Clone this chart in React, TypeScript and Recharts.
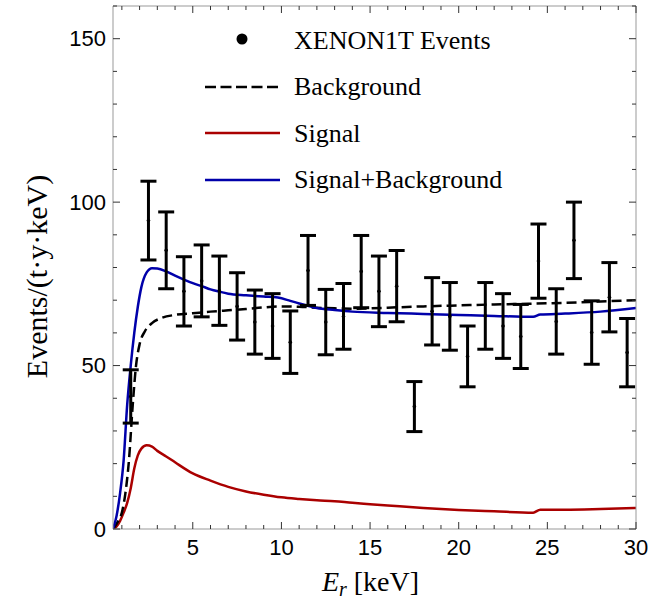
import React from "react";
import {
  ComposedChart,
  Line,
  Scatter,
  ErrorBar,
  XAxis,
  YAxis,
  Legend,
} from "recharts";

// XENON1T bins (keV) and measured rates with error bar ends
const binCenters = [
  1.5, 2.5, 3.5, 4.5, 5.5, 6.5, 7.5, 8.5, 9.5, 10.5, 11.5, 12.5, 13.5, 14.5,
  15.5, 16.5, 17.5, 18.5, 19.5, 20.5, 21.5, 22.5, 23.5, 24.5, 25.5, 26.5, 27.5,
  28.5, 29.5,
];
const eventCenter = [
  40.5, 94.4, 85.3, 72.7, 75.9, 72.9, 68.1, 63.3, 62.1, 57.1, 79.1, 63.3, 65,
  78.8, 72.7, 74.3, 37.5, 66.6, 65, 52.8, 65.2, 62.1, 58.9, 82, 63.5, 88.3,
  60.1, 70.9, 54,
];
const eventLow = [
  32.4, 82.3, 73.5, 62.1, 64.9, 62.3, 57.8, 53.5, 52.2, 47.6, 68.4, 53.3, 55,
  67.7, 61.9, 63.4, 29.8, 56.3, 54.7, 43.5, 55, 52.2, 49.1, 70.6, 53.5, 76.6,
  50.4, 60.3, 43.5,
];
const eventHigh = [
  48.7, 106.4, 97, 83.3, 86.9, 83.5, 78.4, 73.1, 72, 66.7, 89.8, 73.3, 75.1,
  89.8, 83.5, 85.2, 45.1, 76.9, 75.4, 62.1, 75.4, 72, 68.7, 93.3, 73.5, 100,
  69.8, 81.5, 64.4,
];

// background model
const bgE = [
  0.5, 0.75, 1.0, 1.2, 1.4, 1.6, 1.8, 2.0, 2.3, 2.7, 3.2, 4, 5, 6, 7, 8, 9, 10,
  11, 12, 13, 14, 15, 16, 18, 20, 22, 24, 26, 28, 30,
];
const bgY = [
  0, 2, 5, 11, 21, 37, 50, 56.5, 60.5, 63, 64.5, 65.5, 66, 66.5, 66.9, 67.3,
  67.8, 68.1, 68, 67.7, 67.5, 67.4, 67.5, 67.7, 68.1, 68.4, 68.7, 68.9, 69.2,
  69.6, 70,
];

// signal + background
const sbE = [
  0.5, 0.7, 0.9, 1.1, 1.3, 1.5, 1.7, 1.9, 2.1, 2.4, 2.7, 3.0, 3.5, 4.0, 4.5,
  5.0, 5.5, 6.0, 6.5, 7.0, 8, 9, 9.8, 10.5, 11, 12, 13, 14, 16, 18, 20, 22,
  24.2, 24.6, 26, 28, 30,
];
const sbY = [
  0, 4, 11, 21, 38, 50, 60, 68, 74, 78.5, 79.8, 79.7, 78.8, 77.5, 76.3, 75.2,
  74.3, 73.3, 72.6, 72, 71.5, 71.1, 70.8, 69.8, 69, 67.6, 67, 66.5, 66.1, 65.8,
  65.5, 65.2, 64.9, 65.6, 65.9, 66.5, 67.6,
];

// signal
const sigE = [
  0.5, 0.7, 0.9, 1.1, 1.3, 1.5, 1.7, 1.9, 2.1, 2.4, 2.7, 3.0, 3.5, 4, 5, 6, 7,
  8, 9, 10, 11, 12, 13, 14, 15, 16, 18, 20, 22, 24.2, 24.6, 26, 28, 30,
];
const sigY = [
  0, 0.8, 2.5, 5, 8, 12.5, 18.5, 22.5, 24.6, 25.6, 25.2, 23.9, 22.2, 20.4, 17,
  14.8, 12.9, 11.5, 10.5, 9.7, 9.2, 8.8, 8.5, 8, 7.6, 7.2, 6.4, 5.8, 5.4, 5.0,
  5.9, 5.9, 6.1, 6.4,
];

const xTicks = [
  1, 2, 3, 4, 5, 6, 7, 8, 9, 10, 11, 12, 13, 14, 15, 16, 17, 18, 19, 20, 21,
  22, 23, 24, 25, 26, 27, 28, 29, 30,
];
const yTicks = [
  0, 10, 20, 30, 40, 50, 60, 70, 80, 90, 100, 110, 120, 130, 140, 150, 160,
];
const legendLabels = [
  "XENON1T Events",
  "Background",
  "Signal",
  "Signal+Background",
];

const toSeries = (xs: number[], ys: number[]) =>
  xs.map((x, i) => ({ x, y: ys[i] }));

const events = binCenters.map((x, i) => ({
  x,
  y: eventCenter[i],
  err: [eventCenter[i] - eventLow[i], eventHigh[i] - eventCenter[i]],
}));
const background = toSeries(bgE, bgY);
const sigPlusBg = toSeries(sbE, sbY);
const signal = toSeries(sigE, sigY);

const RED = "#AA0000";
const BLUE = "#0000AA";
const FRAME = "#999999";
const TICK = "#333333";
const SANS = "'Liberation Sans', Arial, sans-serif";
const SERIF = "'Liberation Serif', 'Times New Roman', serif";

const BottomTick = ({ x, y, payload }: any) => {
  const major = payload.value % 5 === 0;
  return (
    <g>
      <line x1={x} y1={y} x2={x} y2={y - (major ? 7 : 4)} stroke={TICK} />
      {major && (
        <text x={x} y={y + 26} textAnchor="middle" fontFamily={SANS} fontSize={22} fill="#000">
          {payload.value}
        </text>
      )}
    </g>
  );
};

const TopTick = ({ x, y, payload }: any) => {
  const major = payload.value % 5 === 0;
  return <line x1={x} y1={y} x2={x} y2={y + (major ? 7 : 4)} stroke={TICK} />;
};

const LeftTick = ({ x, y, payload }: any) => {
  const major = payload.value % 50 === 0;
  return (
    <g>
      <line x1={x} y1={y} x2={x + (major ? 7 : 4)} y2={y} stroke={TICK} />
      {major && (
        <text x={x - 7} y={y} dy="0.35em" textAnchor="end" fontFamily={SANS} fontSize={22} fill="#000">
          {payload.value}
        </text>
      )}
    </g>
  );
};

const RightTick = ({ x, y, payload }: any) => {
  const major = payload.value % 50 === 0;
  return <line x1={x} y1={y} x2={x - (major ? 7 : 4)} y2={y} stroke={TICK} />;
};

const YTitle = ({ viewBox }: any) => {
  const cy = viewBox.y + viewBox.height / 2 + 9;
  return (
    <text
      transform={`translate(47,${cy}) rotate(-90)`}
      textAnchor="middle"
      fontFamily={SERIF}
      fontSize={30}
      fill="#000"
    >
      Events/(t·y·keV)
    </text>
  );
};

const XTitle = ({ viewBox }: any) => {
  const cx = viewBox.x + viewBox.width / 2 - 4;
  return (
    <text x={cx} y={viewBox.y + 62} textAnchor="middle" fontFamily={SERIF} fontSize={28} fill="#000">
      <tspan fontStyle="italic">E</tspan>
      <tspan fontStyle="italic" fontSize={20} dy={5}>r</tspan>
      <tspan dy={-5}>{"\u00a0[keV]"}</tspan>
    </text>
  );
};

const LegendBox = () => (
  <svg width={330} height={200}>
    <circle cx={42} cy={39} r={5.5} fill="#000" />
    <line x1={5} y1={87} x2={80} y2={87} stroke="#000" strokeWidth={2.5} strokeDasharray="11 4.5" />
    <line x1={5} y1={133} x2={80} y2={133} stroke={RED} strokeWidth={2.5} />
    <line x1={5} y1={180} x2={80} y2={180} stroke={BLUE} strokeWidth={2.5} />
    {legendLabels.map((t, i) => (
      <text key={t} x={94} y={49 + i * 46.3} fontFamily={SERIF} fontSize={26} fill="#000">
        {t}
      </text>
    ))}
  </svg>
);

export default function App() {
  return (
    <div style={{ position: "absolute", left: 0, top: 0, background: "#fff" }}>
      <ComposedChart width={672} height={599} margin={{ top: 0, right: 0, bottom: 0, left: 0 }}>
        <XAxis
          xAxisId="b"
          type="number"
          dataKey="x"
          domain={[0.5, 30]}
          allowDataOverflow
          ticks={xTicks}
          interval={0}
          height={70}
          tickSize={0}
          tickMargin={0}
          tickLine={false}
          axisLine={{ stroke: FRAME }}
          tick={(p: any) => <BottomTick {...p} />}
          label={<XTitle />}
        />
        <XAxis
          xAxisId="t"
          orientation="top"
          type="number"
          dataKey="x"
          domain={[0.5, 30]}
          allowDataOverflow
          ticks={xTicks}
          interval={0}
          height={6}
          tickSize={0}
          tickMargin={0}
          tickLine={false}
          axisLine={{ stroke: FRAME }}
          tick={(p: any) => <TopTick {...p} />}
        />
        <YAxis
          yAxisId="l"
          type="number"
          domain={[0, 160]}
          allowDataOverflow
          ticks={yTicks}
          interval={0}
          width={113}
          tickSize={0}
          tickMargin={0}
          tickLine={false}
          axisLine={{ stroke: FRAME }}
          tick={(p: any) => <LeftTick {...p} />}
          label={<YTitle />}
        />
        <YAxis
          yAxisId="r"
          orientation="right"
          type="number"
          domain={[0, 160]}
          allowDataOverflow
          ticks={yTicks}
          interval={0}
          width={36}
          tickSize={0}
          tickMargin={0}
          tickLine={false}
          axisLine={{ stroke: FRAME }}
          tick={(p: any) => <RightTick {...p} />}
        />
        <Legend
          layout="vertical"
          align="center"
          verticalAlign="middle"
          content={() => <LegendBox />}
          wrapperStyle={{ position: "absolute", left: 200, top: 0, width: 330, height: 200 }}
        />
        <Line
          xAxisId="b"
          yAxisId="l"
          data={signal}
          dataKey="y"
          type="monotone"
          stroke={RED}
          strokeWidth={2.5}
          dot={false}
          isAnimationActive={false}
        />
        <Line
          xAxisId="b"
          yAxisId="l"
          data={background}
          dataKey="y"
          type="monotone"
          stroke="#000"
          strokeWidth={2.5}
          strokeDasharray="10 5"
          dot={false}
          isAnimationActive={false}
        />
        <Line
          xAxisId="b"
          yAxisId="l"
          data={sigPlusBg}
          dataKey="y"
          type="monotone"
          stroke={BLUE}
          strokeWidth={2.5}
          dot={false}
          isAnimationActive={false}
        />
        <Scatter
          xAxisId="b"
          yAxisId="l"
          data={events}
          dataKey="y"
          fill="#000"
          shape={(p: any) => <circle cx={p.cx} cy={p.cy} r={1.8} fill="#000" />}
          isAnimationActive={false}
        >
          <ErrorBar dataKey="err" direction="y" width={8} strokeWidth={3} stroke="#000" />
        </Scatter>
      </ComposedChart>
    </div>
  );
}
